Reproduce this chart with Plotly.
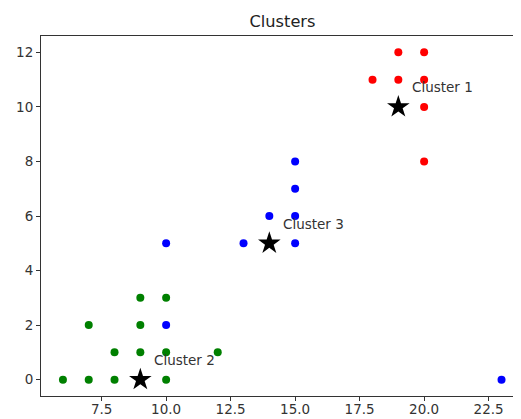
import plotly.graph_objects as go

# Data
c1_x = [19, 20, 18, 19, 20, 20, 20]
c1_y = [12, 12, 11, 11, 11, 10, 8]
c2_x = [6, 7, 8, 10, 8, 9, 10, 12, 7, 9, 9, 10, 9]
c2_y = [0, 0, 0, 0, 1, 1, 1, 1, 2, 2, 3, 3, 0]
c3_x = [15, 15, 14, 15, 10, 13, 15, 10, 23]
c3_y = [8, 7, 6, 6, 5, 5, 5, 2, 0]
centroid_x = [19, 9, 14]
centroid_y = [10, 0, 5]
centroid_labels = ["Cluster 1", "Cluster 2", "Cluster 3"]
x_ticks = [7.5, 10.0, 12.5, 15.0, 17.5, 20.0, 22.5]
x_tick_text = ["7.5", "10.0", "12.5", "15.0", "17.5", "20.0", "22.5"]
y_ticks = [0, 2, 4, 6, 8, 10, 12]

# page body has an 8px margin, so the figure is offset by 8px
W, H = 513, 411

fig = go.Figure()
for xs, ys, col in [(c1_x, c1_y, "#ff0000"), (c2_x, c2_y, "#008000"), (c3_x, c3_y, "#0000ff")]:
    fig.add_trace(go.Scatter(x=xs, y=ys, mode="markers",
                             marker=dict(color=col, size=8, line=dict(width=0)),
                             showlegend=False, hoverinfo="skip", cliponaxis=False))
fig.add_trace(go.Scatter(x=centroid_x, y=centroid_y, mode="markers",
                         marker=dict(symbol="star", color="black", size=17, line=dict(width=0)),
                         showlegend=False, hoverinfo="skip", cliponaxis=False))

for cx, cy, lab in zip(centroid_x, centroid_y, centroid_labels):
    fig.add_annotation(x=cx + 0.5, y=cy + 0.5, text=lab, showarrow=False,
                       xanchor="left", yanchor="bottom", yshift=-4, xshift=-1,
                       font=dict(family="DejaVu Sans", size=13.5, color="#333333"))

axis_common = dict(showgrid=False, zeroline=False, showline=True, linecolor="#333333",
                   linewidth=1, ticks="outside", ticklen=4, tickcolor="#333333",
                   automargin=False,
                   tickfont=dict(family="DejaVu Sans", size=13.5, color="#333333"))

fig.update_layout(
    width=W, height=H,
    margin=dict(l=33, r=0, t=28, b=23),
    plot_bgcolor="white", paper_bgcolor="white",
    title=dict(text="Clusters", x=274.5 / W, xanchor="center", y=1 - 13 / H, yanchor="middle",
               font=dict(family="DejaVu Sans", size=16.2, color="#222222")),
    xaxis=dict(range=[5.15, 5.15 + 480 / 25.8], tickvals=x_ticks, ticktext=x_tick_text,
               mirror=True, ticklabelstandoff=-3, **axis_common),
    yaxis=dict(range=[-0.6, 12.6], tickvals=y_ticks, **axis_common),
)

fig.write_html("out.html")
